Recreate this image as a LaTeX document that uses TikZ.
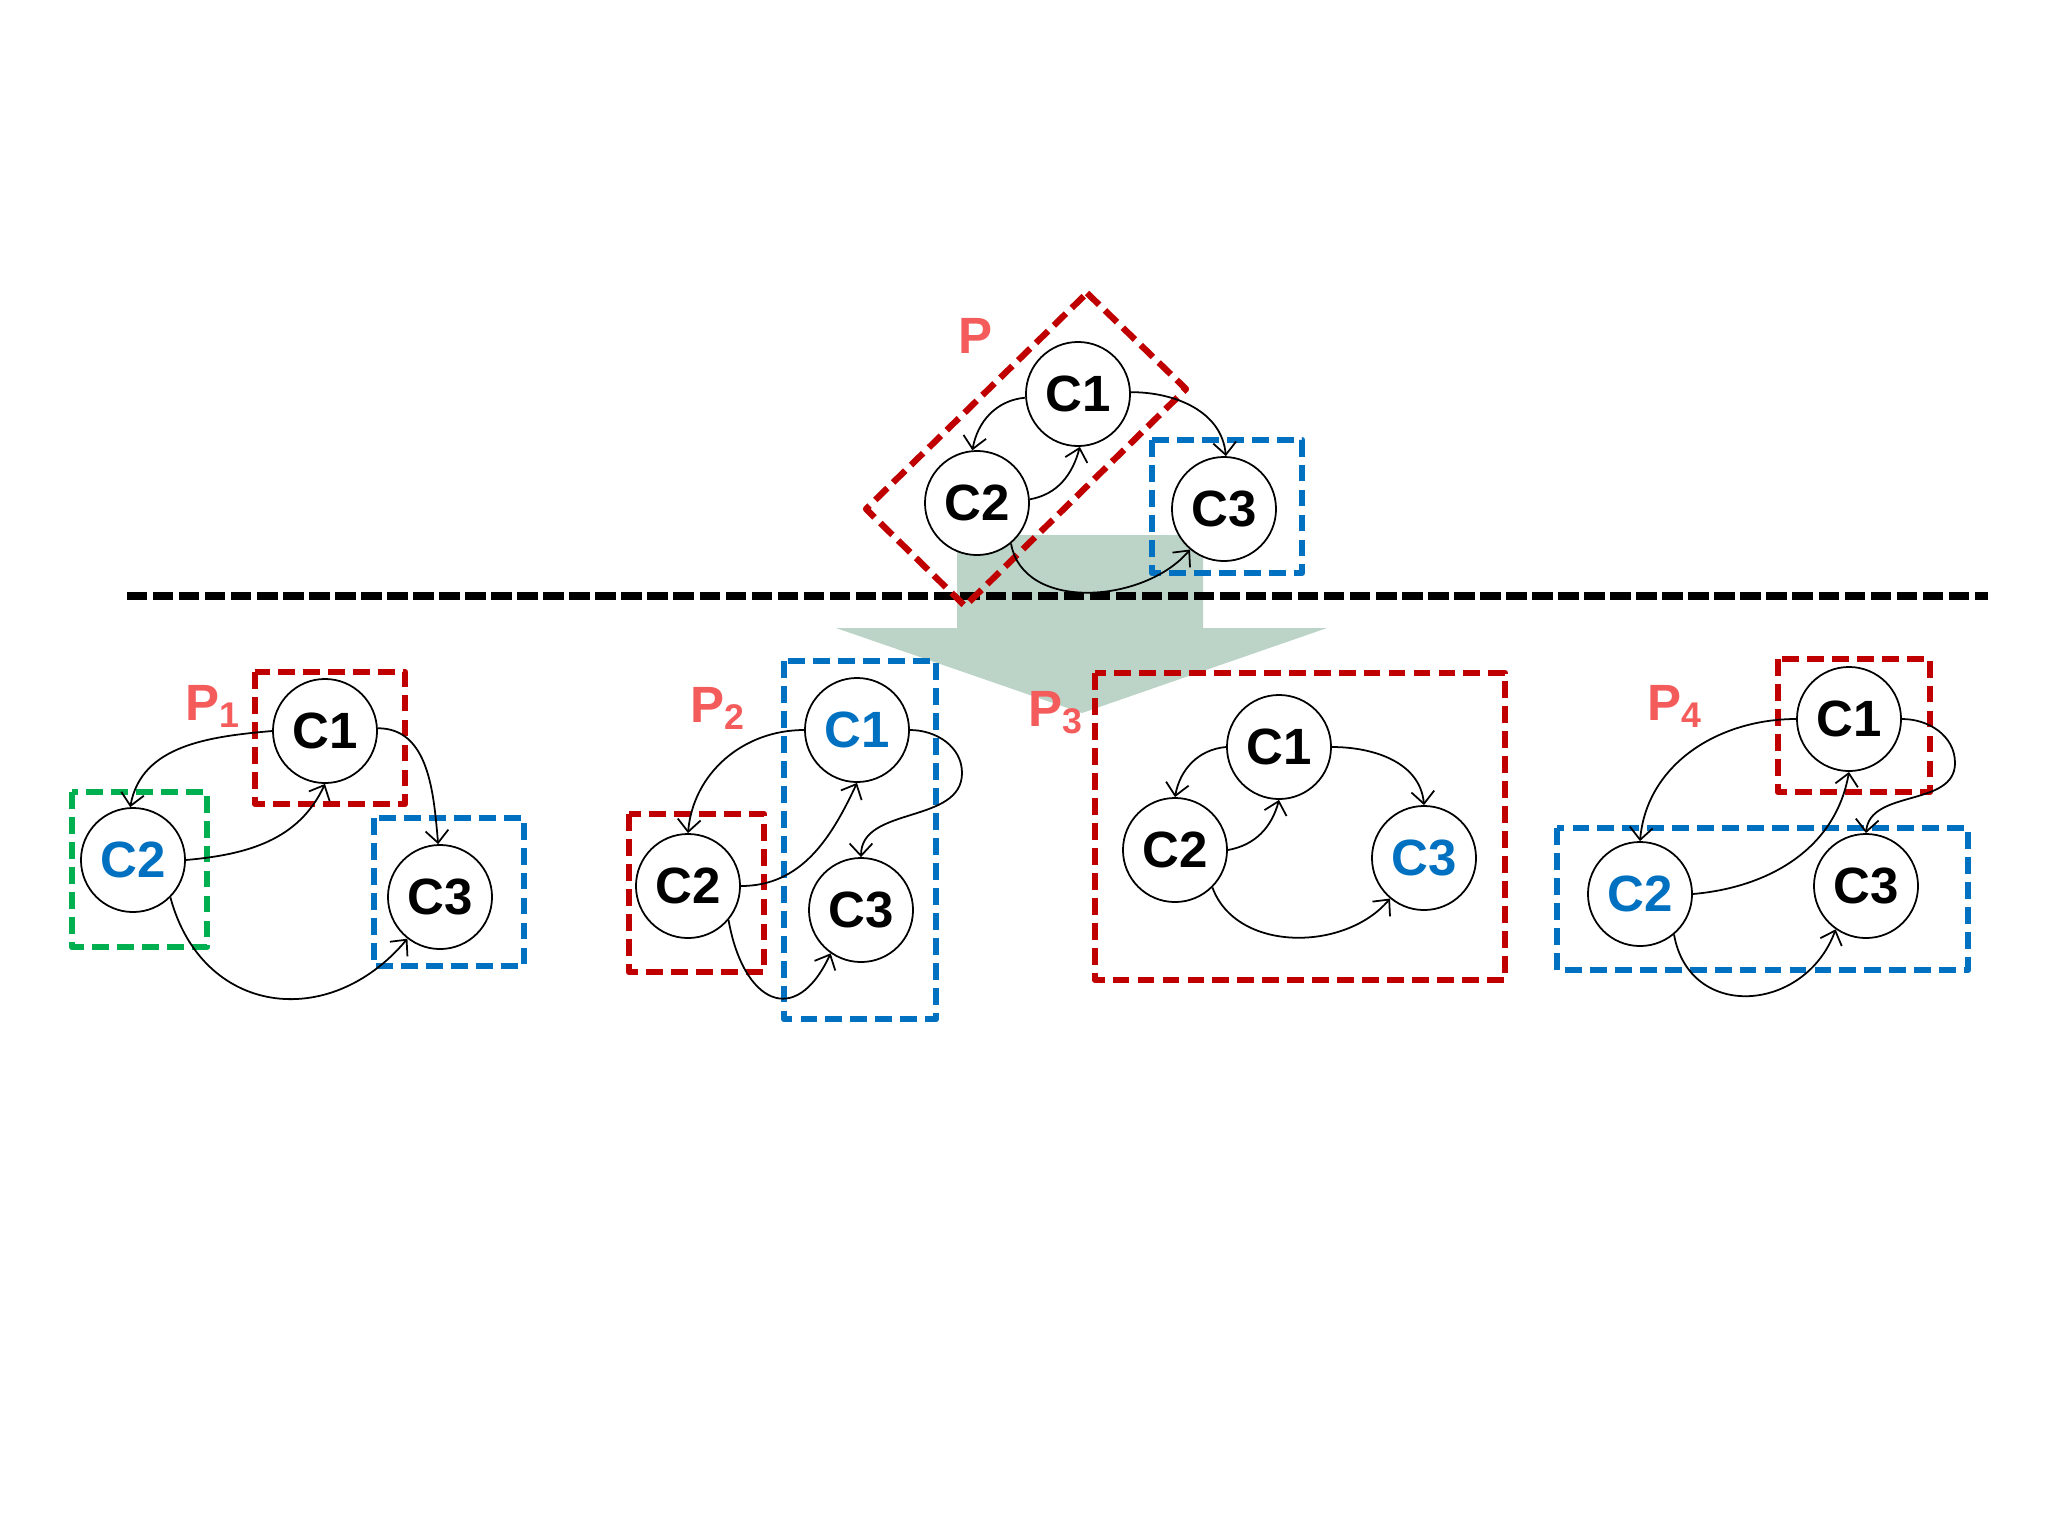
\documentclass[tikz,border=0pt]{standalone}
\usepackage{fontspec}
\setmainfont{Liberation Sans}
\usepackage{tikz}
\usetikzlibrary{arrows.meta}
\definecolor{grpred}{HTML}{C00000}
\definecolor{grpblue}{HTML}{0070C0}
\definecolor{grpgreen}{HTML}{00B050}
\definecolor{tagred}{HTML}{F45B5B}
\definecolor{flowgreen}{HTML}{BCD4C8}

\begin{document}
\begin{tikzpicture}[
        x=0.01cm, y=-0.01cm,
        comp/.style={
            circle,
            draw=black,
            fill=white,
            line width=0.5pt,
            minimum size=1.04cm,
            inner sep=0pt,
            font=\fontsize{14.5}{17}\selectfont\bfseries
        },
        compblue/.style={comp, text=grpblue},
        pname/.style={anchor=base west, inner sep=0pt, text=tagred, font=\fontsize{14.5}{17}\selectfont\bfseries},
        group/.style={line width=1.8pt, dash pattern=on 4.8pt off 2.3pt, line join=round},
        redgroup/.style={group, draw=grpred},
        bluegroup/.style={group, draw=grpblue},
        greengroup/.style={group, draw=grpgreen},
        cutline/.style={line width=2pt, dash pattern=on 5.8pt off 1.6pt},
        link/.style={line width=0.5pt, -{Straight Barb[length=3.5pt,width=6.5pt]}}
    ]
        \useasboundingbox (0,0) rectangle (2048,1536);
        \fill[white] (0,0) rectangle (2048,1536);

        % big arrow and separator
        \fill[flowgreen] (957,535) -- (1203,535) -- (1203,628) -- (1327,628)
            -- (1082,713) -- (836,628) -- (957,628) -- cycle;
        \draw[cutline] (127,596) -- (1988,596);

        % P
        \draw[redgroup] (1087,293) -- (1186,389) -- (965,606) -- (866,509) -- cycle;
        \draw[bluegroup] (1152,440) rectangle (1302,573);
        \node[pname] (tagp) at (958,353) {P};
        \node[comp] (t1) at (1078,394) {C1};
        \node[comp] (t2) at (977,503) {C2};
        \node[comp] (t3) at (1224,509) {C3};
        \draw[link] (t1.184) to[out=185,in=80] (t2.95);
        \draw[link] (t2.4) to[out=10,in=-105] (t1.-88);
        \draw[link] (t1.2) to[out=0,in=95] (t3.88);
        \draw[link] (t2.-50) to[out=-80,in=-130] (t3.-130);

        % P1
        \draw[redgroup] (255,672) rectangle (405,804);
        \draw[greengroup] (72,792) rectangle (207,947);
        \draw[bluegroup] (374,818) rectangle (524,966);
        \node[pname] (tag1) at (185,720) {P\textsubscript{1}};
        \node[comp] (a1) at (325,731) {C1};
        \node[compblue] (a2) at (133,860) {C2};
        \node[comp] (a3) at (440,897) {C3};
        \draw[link] (a1.180) to[out=185,in=80] (a2.93);
        \draw[link] (a2.0) to[out=5,in=-115] (a1.-90);
        \draw[link] (a1.3) to[out=0,in=95] (a3.92);
        \draw[link] (a2.-45) to[out=-75,in=-130,looseness=1.3] (a3.-128);

        % P2
        \draw[bluegroup] (784,661) rectangle (936,1019);
        \draw[redgroup] (629,814) rectangle (764,972);
        \node[pname] (tag2) at (690,722) {P\textsubscript{2}};
        \node[compblue] (b1) at (857,730) {C1};
        \node[comp] (b2) at (688,886) {C2};
        \node[comp] (b3) at (861,910) {C3};
        \coordinate (bturn) at (962,773);
        \draw[link] (b1.180) to[out=180,in=85] (b2.90);
        \draw[link] (b2.0) to[out=0,in=-115] (b1.-90);
        \draw[link] (b1.0) to[out=0,in=90] (bturn) to[out=-90,in=90] (b3.90);
        \draw[link] (b2.-40) to[out=-80,in=-115,looseness=2] (b3.-125);

        % P3
        \draw[redgroup] (1095,673) rectangle (1505,980);
        \node[pname] (tag3) at (1028,726) {P\textsubscript{3}};
        \node[comp] (c1) at (1279,747) {C1};
        \node[comp] (c2) at (1175,850) {C2};
        \node[compblue] (c3) at (1424,858) {C3};
        \draw[link] (c1.180) to[out=185,in=80] (c2.90);
        \draw[link] (c2.0) to[out=10,in=-105] (c1.-90);
        \draw[link] (c1.0) to[out=0,in=95] (c3.90);
        \draw[link] (c2.-45) to[out=-70,in=-130] (c3.-130);

        % P4
        \draw[redgroup] (1778,659) rectangle (1930,792);
        \draw[bluegroup] (1557,828) rectangle (1968,970);
        \node[pname] (tag4) at (1647,720) {P\textsubscript{4}};
        \node[comp] (d1) at (1849,719) {C1};
        \node[compblue] (d2) at (1640,894) {C2};
        \node[comp] (d3) at (1866,886) {C3};
        \coordinate (dturn) at (1955,763);
        \draw[link] (d1.180) to[out=180,in=85] (d2.90);
        \draw[link] (d2.0) to[out=5,in=-100] (d1.-90);
        \draw[link] (d1.0) to[out=0,in=90] (dturn) to[out=-90,in=85] (d3.90);
        \draw[link] (d2.-50) to[out=-80,in=-110,looseness=1.4] (d3.-125);
    \end{tikzpicture}
\end{document}
